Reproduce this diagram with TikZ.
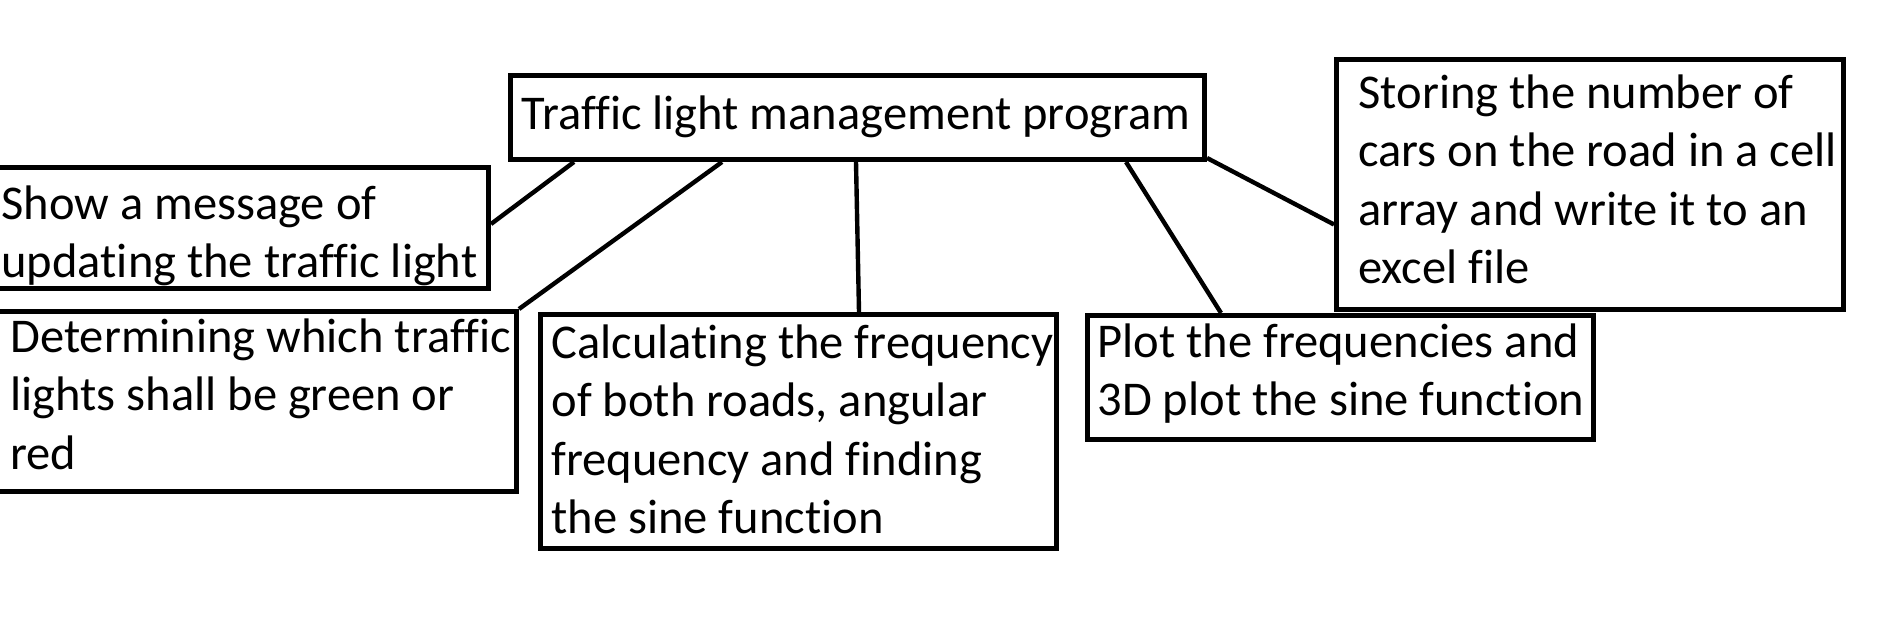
\documentclass[tikz,border=0pt]{standalone}
\usepackage{fontspec}
\setmainfont{Carlito}[Ligatures=NoCommon]
\usepackage{tikz}
\usetikzlibrary{positioning}

\tikzset{
  box/.style={draw, line width=2.5pt, anchor=north west, align=left, inner sep=0pt, font=\fontsize{24.25pt}{29.2pt}\selectfont},
  link/.style={line width=2.2pt}
}
% left indent of the text in a box, normal spaces, lines may run a bit over
\newcommand{\boxtext}[2]{\leftskip=#1\rightskip=-20pt plus 1fil\spaceskip=0pt\xspaceskip=0pt\hyphenpenalty=10000 #2\par}

\begin{document}
\begin{tikzpicture}[x=0.5pt, y=-0.5pt]
\useasboundingbox (0,0) rectangle (1879,635); %edit here for the page
%
\node[box, text width=347pt, text height=27pt, text depth=15pt] (main) at (508,73) {\boxtext{5.5pt}{Traffic light management program}};
\node[box, text width=251pt, text height=26pt, text depth=34.5pt] (show) at (-16,165) {\boxtext{7.5pt}{Show a message of\\ updating the traffic light}};
\node[box, text width=259.5pt, text height=20.5pt, text depth=69.5pt] (determ) at (-5,309) {\boxtext{6.5pt}{Determining which traffic\\ lights shall be green or\\ red}};
\node[box, text width=258pt, text height=22pt, text depth=95pt] (calc) at (538,312) {\boxtext{5.5pt}{Calculating the frequency\\ of both roads, angular\\ frequency and finding\\ the sine function}};
\node[box, text width=253pt, text height=21pt, text depth=41pt] (plot) at (1085,313) {\boxtext{5pt}{Plot the frequencies and\\ 3D plot the sine function}};
\node[box, text width=253.5pt, text height=24.5pt, text depth=100.5pt] (store) at (1334,57) {\boxtext{11pt}{Storing the number of\\ cars on the road in a cell\\ array and write it to an\\ excel file}};
%
\draw[link] ([yshift=2pt]show.east) -- ([xshift=33pt]main.south west);
\draw[link] (determ.north east) -- ([xshift=107pt]main.south west);
\draw[link] ([xshift=174pt]main.south west) -- ([xshift=160.5pt]calc.north west);
\draw[link] ([xshift=309pt]main.south west) -- ([xshift=68pt]plot.north west);
\draw[link] ([yshift=2pt]main.south east) -- ([yshift=-20pt]store.west);
\end{tikzpicture}
\end{document}
